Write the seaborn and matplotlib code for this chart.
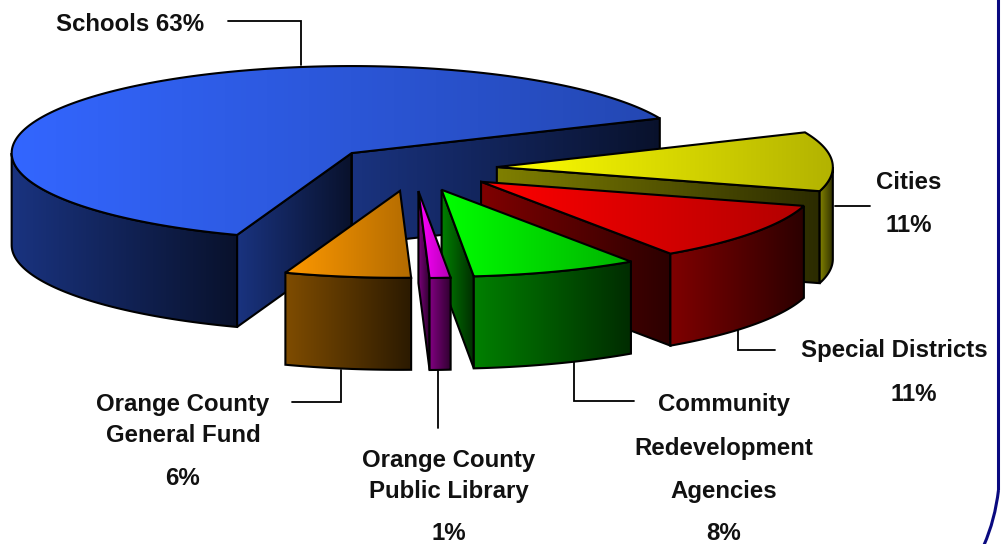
import numpy as np
import matplotlib
matplotlib.use("Agg")
import matplotlib.pyplot as plt
from matplotlib.patches import Polygon, PathPatch
from matplotlib.path import Path
import seaborn as sns

# Share of the property tax dollar by recipient, in pie order (clockwise)
recipients = ["Schools", "Cities", "Special Districts",
              "Community Redevelopment Agencies",
              "Orange County Public Library", "Orange County General Fund"]
shares = [63, 11, 11, 8, 1, 6]
base_colors = ["#3366FF", "#FFFF00", "#FF0000", "#00FF00", "#FF00FF", "#FF9900"]

sns.set_theme(style="white")
plt.rcParams["font.family"] = ["Liberation Sans", "DejaVu Sans"]

fig = plt.figure(figsize=(10.03, 5.44), dpi=100, facecolor="white")
ax = fig.add_axes([0, 0, 1, 1])
ax.set_facecolor("white")

# Pie projection, in pixels
CX, CY = 413, 168.5
RX_LEFT, RX_RIGHT, RY = 340, 336, 87
EXPLODE_X, EXPLODE_Y = 84, 22.6
DEPTH = 92
START_ANGLE = 250.3
EDGE = 1.5


def project(apex, angles):
    rad = np.radians(angles)
    cos, sin = np.cos(rad), np.sin(rad)
    rx = np.where(cos < 0, RX_LEFT, RX_RIGHT)
    return np.column_stack([apex[0] + rx * cos, apex[1] - RY * sin])


def shaded_face(verts, left, right, zorder):
    """Fill a polygon with a left-to-right blend and outline it."""
    verts = np.asarray(verts)
    x0, x1 = verts[:, 0].min(), verts[:, 0].max()
    y0, y1 = verts[:, 1].min(), verts[:, 1].max()
    cmap = sns.blend_palette([left, right], n_colors=128, as_cmap=True)
    ramp = np.linspace(0, 1, 256)[None, :]
    im = ax.imshow(ramp, cmap=cmap, vmin=0, vmax=1, extent=[x0, x1, y1, y0],
                   aspect="auto", zorder=zorder, interpolation="bilinear")
    clip = Polygon(verts, closed=True, transform=ax.transData)
    im.set_clip_path(clip)
    ax.add_patch(Polygon(verts, closed=True, fill=False, edgecolor="black",
                         linewidth=EDGE, joinstyle="miter", zorder=zorder + 0.1))


def scale(color, factor):
    return tuple(c * factor for c in matplotlib.colors.to_rgb(color))


def extrude(points):
    points = np.asarray(points)
    low = points[::-1] + [0, DEPTH]
    return np.vstack([points, low])


def draw_wedge(ang_low, ang_high, color, z):
    mid = np.radians((ang_low + ang_high) / 2)
    apex = (CX + EXPLODE_X * np.cos(mid), CY - EXPLODE_Y * np.sin(mid))
    side_left, side_right = scale(color, 0.5), scale(color, 0.17)

    # Cut faces that turn toward the viewer
    for angle, normal in ((ang_low, ang_low - 90), (ang_high, ang_high + 90)):
        if np.sin(np.radians(normal)) < 0:
            rim = project(apex, np.array([angle]))
            shaded_face(extrude([apex, rim[0]]), side_left, side_right, z)

    # Outer rim, only where it lies on the near half of the ellipse
    for lo, hi in ((-180, 0), (180, 360)):
        a, b = max(ang_low, lo), min(ang_high, hi)
        if b > a:
            arc = project(apex, np.linspace(a, b, 80))
            shaded_face(extrude(arc), side_left, side_right, z + 0.2)

    # Top face
    arc = project(apex, np.linspace(ang_low, ang_high, 200))
    top = np.vstack([[apex], arc])
    shaded_face(top, color, scale(color, 0.7), z + 0.4)


# Walk clockwise from the start angle; the Library slice is painted last
edges = START_ANGLE - np.cumsum([0] + [s * 3.6 for s in shares])
draw_order = [0, 1, 2, 3, 5, 4]
for z, i in enumerate(draw_order):
    draw_wedge(edges[i + 1], edges[i], base_colors[i], 2 + z)

# Leader lines
leader_lines = [
    ([228, 301, 301], [21, 21, 65]),
    ([835, 870], [206, 206]),
    ([738, 738, 775], [327, 350, 350]),
    ([574, 574, 634], [362, 401, 401]),
    ([438, 438], [370, 428]),
    ([341, 341, 292], [370, 402, 402]),
]
for xs, ys in leader_lines:
    ax.plot(xs, ys, color="black", linewidth=1.3, solid_joinstyle="miter", zorder=1)

# Labels
labels = [
    ("Schools 63%", 130, 24.5),
    ("Cities", 909, 182.5), ("11%", 909, 225.5),
    ("Special Districts", 894, 350.5), ("11%", 914, 394.5),
    ("Community", 724, 404.5), ("Redevelopment", 724, 448.5),
    ("Agencies", 724, 491.5), ("8%", 724, 533),
    ("Orange County", 449, 460.5), ("Public Library", 449, 491.5), ("1%", 449, 533),
    ("Orange County", 183, 404.5), ("General Fund", 183, 435.5), ("6%", 183, 478.5),
]
for text, x, y in labels:
    ax.text(x, y, text, ha="center", va="center", fontsize=17.3, fontweight="bold",
            color="#111111", zorder=20)

# Border of the surrounding slide, rounding off at the lower right
border = Path([(998.5, 0), (998.5, 490), (998.5, 490), (995, 520), (984, 545)],
              [Path.MOVETO, Path.LINETO, Path.MOVETO, Path.CURVE3, Path.CURVE3])
ax.add_patch(PathPatch(border, fill=False, edgecolor="#0A0A80", linewidth=2.2, zorder=21))

ax.set_xlim(0, 1003)
ax.set_ylim(544, 0)
ax.axis("off")
fig.savefig("out.png", dpi=100, facecolor="white")
